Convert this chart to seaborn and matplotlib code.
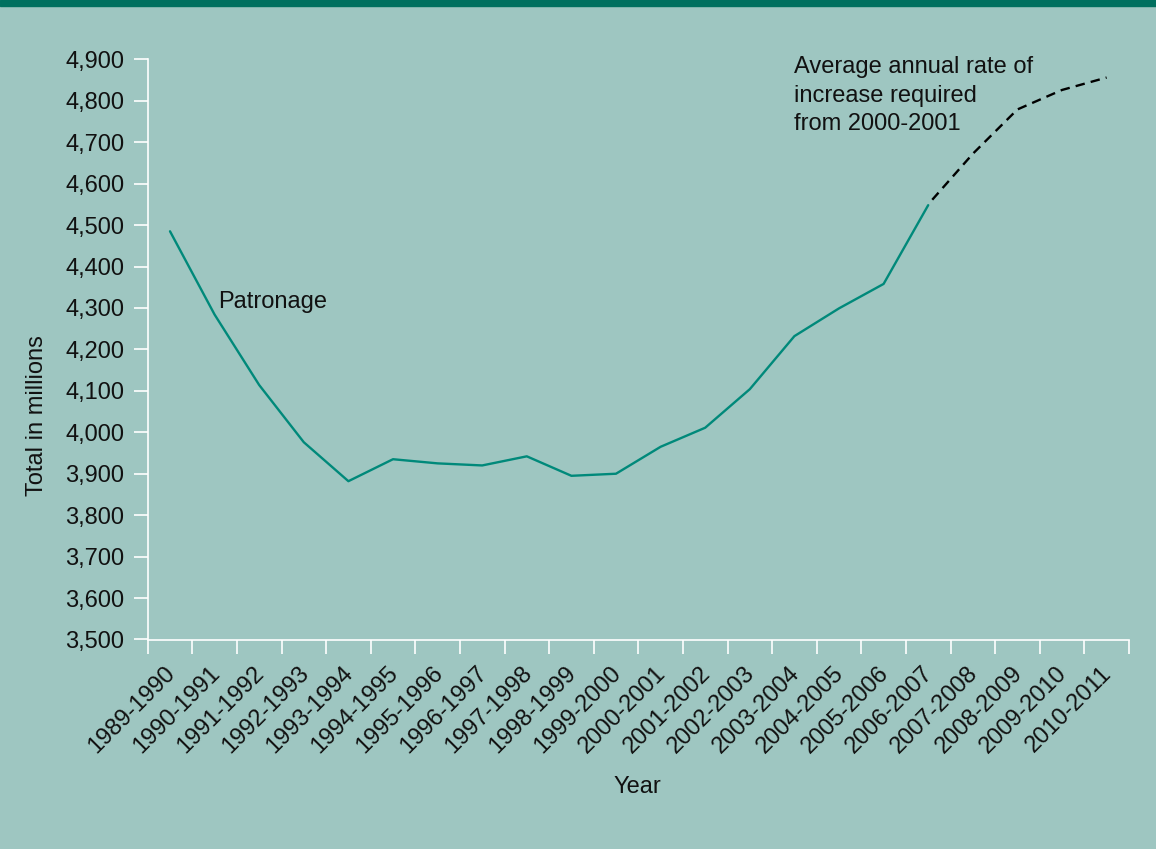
import numpy as np
import pandas as pd
import matplotlib
matplotlib.use("Agg")
import matplotlib.pyplot as plt
import matplotlib.transforms as mtransforms
from matplotlib.patches import Rectangle
from matplotlib.ticker import FuncFormatter
import seaborn as sns

# ---------------- data ----------------
years = ["1989-1990", "1990-1991", "1991-1992", "1992-1993", "1993-1994",
         "1994-1995", "1995-1996", "1996-1997", "1997-1998", "1998-1999",
         "1999-2000", "2000-2001", "2001-2002", "2002-2003", "2003-2004",
         "2004-2005", "2005-2006", "2006-2007", "2007-2008", "2008-2009",
         "2009-2010", "2010-2011"]
patronage = [4485, 4284, 4114, 3976, 3882, 3935, 3925, 3920, 3942, 3895,
             3900, 3965, 4011, 4104, 4232, 4299, 4358, 4548]
projection_years = ["2006-2007", "2007-2008", "2008-2009", "2009-2010", "2010-2011"]
projection = [4550, 4672, 4779, 4826, 4856]
y_ticks = [3500, 3600, 3700, 3800, 3900, 4000, 4100, 4200, 4300, 4400,
           4500, 4600, 4700, 4800, 4900]
series_label = "Patronage"
note_lines = ["Average annual rate of", "increase required", "from 2000-2001"]

# ---------------- style ----------------
BG = "#9EC6C1"
BAND = "#00705F"
LINE = "#00897A"
TXT = "#111111"

sns.set_theme(style="ticks", rc={"axes.facecolor": BG, "figure.facecolor": BG})
plt.rcParams["font.family"] = ["Liberation Sans", "DejaVu Sans"]

fig = plt.figure(figsize=(11.56, 8.49), dpi=100, facecolor=BG)
ax = fig.add_axes([147.7 / 1156, 1 - 639.5 / 849, (1128.9 - 147.7) / 1156, (639.5 - 59.3) / 849])
ax.set_facecolor(BG)

# top band
fig.add_artist(Rectangle((0, 1 - 6 / 849), 1, 6 / 849, transform=fig.transFigure,
                         color=BAND, zorder=10))

pos_of = {y: i for i, y in enumerate(years)}
df_hist = pd.DataFrame({"pos": [pos_of[y] for y in years[:len(patronage)]],
                        "value": patronage})
df_proj = pd.DataFrame({"pos": [pos_of[y] for y in projection_years],
                        "value": projection})

sns.lineplot(data=df_proj, x="pos", y="value", ax=ax, color="black",
             linewidth=1.7, linestyle=(4, (4, 2.6)))
sns.lineplot(data=df_hist, x="pos", y="value", ax=ax, color=LINE,
             linewidth=1.7)

ax.set_xlim(-0.5, len(years) - 0.5)
ax.set_ylim(y_ticks[0], y_ticks[-1])

# x ticks: labels at centres, tick marks at boundaries
ax.set_xticks(np.arange(len(years)))
ax.set_xticklabels(years, rotation=45, ha="right", va="baseline",
                   rotation_mode="anchor", fontsize=17, color=TXT)
ax.set_xticks(np.arange(len(years) + 1) - 0.5, minor=True)
ax.tick_params(axis="x", which="major", length=0, pad=25)
ax.tick_params(axis="x", which="minor", length=10, width=1.2, color="white",
               direction="out")
offset = mtransforms.ScaledTranslation(6 / 100, 0, fig.dpi_scale_trans)
for lbl in ax.get_xticklabels():
    lbl.set_transform(lbl.get_transform() + offset)

ax.set_yticks(y_ticks)
ax.yaxis.set_major_formatter(FuncFormatter(lambda v, p: f"{int(v):,}"))
ax.tick_params(axis="y", length=10, width=1.2, color="white", direction="out",
               pad=6.7, labelsize=17, labelcolor=TXT)

for s in ["top", "right"]:
    ax.spines[s].set_visible(False)
for s in ["left", "bottom"]:
    ax.spines[s].set_color("white")
    ax.spines[s].set_linewidth(1.2)

ax.set_xlabel("Year", fontsize=17, color=TXT)
ax.xaxis.set_label_coords(0.4987, -0.236)
ax.set_ylabel("Total in millions", fontsize=17, color=TXT)
ax.yaxis.set_label_coords(-0.1016, 0.386)

ax.text(1.076, 4300, series_label, ha="left", va="baseline", fontsize=17, color=TXT)
for line, yv in zip(note_lines, [4866, 4797.7, 4729.4]):
    ax.text(14.0, yv, line, ha="left", va="baseline", fontsize=17, color=TXT)

fig.savefig("out.png", dpi=100, facecolor=BG)
